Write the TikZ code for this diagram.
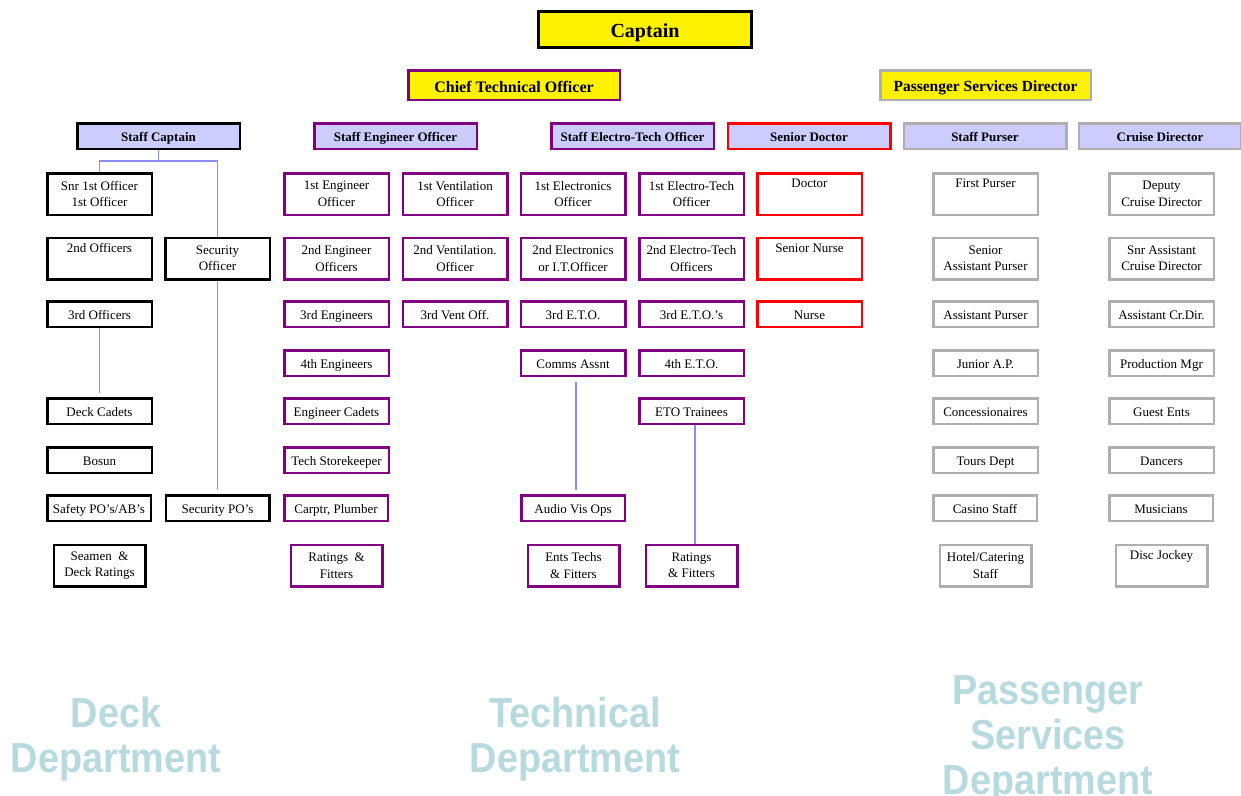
\documentclass[tikz,border=0pt]{standalone}
\usepackage{fontspec}
\usepackage{graphicx}
\setmainfont{Liberation Serif}
\newfontfamily\depfont{Liberation Sans}
\usetikzlibrary{backgrounds}
\definecolor{lav}{RGB}{204,204,255}
\definecolor{purp}{RGB}{128,0,128}
\definecolor{gry}{RGB}{175,175,175}
\definecolor{cnc}{RGB}{140,140,245}
\definecolor{dept}{RGB}{183,218,222}
\begin{document}
\begin{tikzpicture}[x=1pt,y=-1pt,
 base/.style={rectangle, inner sep=0pt, align=center, font=\fontsize{13}{16.5}\selectfont, line width=2.5pt, fill=white},
 deck/.style={base, draw=black},
 tech/.style={base, draw=purp},
 med/.style={base, draw=red},
 pass/.style={base, draw=gry},
 head/.style={fill=lav, minimum width=162.5pt, minimum height=25.5pt, font=\fontsize{13}{16}\selectfont\bfseries, text height=10.5pt, text depth=0.5pt},
 tall/.style={minimum width=104.5pt, minimum height=41.5pt},
 short/.style={minimum width=104.5pt, minimum height=25.5pt, text height=11.5pt, text depth=0.5pt},
 rowg/.style={minimum width=103.5pt, minimum height=25.5pt, text height=11.5pt, text depth=0.5pt},
 rowh/.style={minimum width=91.5pt, minimum height=41.5pt},
 top/.style={base, fill=yellow, minimum height=29.5pt},
 cn/.style={draw=cnc, line width=1.4pt},
 dep/.style={inner sep=0pt, align=center, text=dept, font=\depfont\bfseries\fontsize{42}{45}\selectfont}
]
\useasboundingbox (0,0) rectangle (1241,795);

% top
\node[top, draw=black, line width=3pt, minimum width=213pt, minimum height=36pt, font=\fontsize{20}{24}\selectfont\bfseries, text height=17pt, text depth=1.4pt] (cap) at (645,29.5) {Captain};
\node[top, draw=purp, minimum width=211.5pt, font=\fontsize{16}{19}\selectfont\bfseries, text height=14pt, text depth=0pt] (cto) at (514,85) {Chief Technical Officer};
\node[top, draw=gry, minimum width=210.5pt, font=\fontsize{15.5}{19}\selectfont\bfseries, text height=14pt, text depth=0.6pt] (psd) at (985.5,85) {Passenger Services Director};

% heads
\node[deck, head] (sc) at (158.5,136) {Staff Captain};
\node[tech, head] (seo) at (395.5,136) {Staff Engineer Officer};
\node[tech, head] (seto) at (632.5,136) {Staff Electro-Tech Officer};
\node[med, head] (sd) at (809,136) {Senior Doctor};
\node[pass, head] (sp) at (985,136) {Staff Purser};
\node[pass, head] (cd) at (1160,136) {Cruise Director};

% row A
\node[deck, tall] (snr) at (99.5,194) {Snr 1st Officer\\1st Officer};
\node[tech, tall] (e1) at (336.5,194) {1st Engineer\\Officer};
\node[tech, tall] (v1) at (455,194) {1st Ventilation\\Officer};
\node[tech, tall] (el1) at (573,194) {1st Electronics\\Officer};
\node[tech, tall] (et1) at (691.5,194) {1st Electro-Tech\\Officer};
\node[med, tall] (doc) at (809.5,194) {Doctor\\\strut};
\node[pass, tall] (fp) at (985.5,194) {First Purser\\\strut};
\node[pass, tall] (dcd) at (1161.5,194) {Deputy\\Cruise Director};

% row B
\node[deck, tall] (o2) at (99.5,258.5) {2nd Officers\\\strut};
\node[deck, tall] (seco) at (217.5,258.5) {Security\\Officer};
\node[tech, tall] (e2) at (336.5,258.5) {2nd Engineer\\Officers};
\node[tech, tall] (v2) at (455,258.5) {2nd Ventilation.\\Officer};
\node[tech, tall] (el2) at (573,258.5) {2nd Electronics\\or I.T.Officer};
\node[tech, tall] (et2) at (691.5,258.5) {2nd Electro-Tech\\Officers};
\node[med, tall] (sn) at (809.5,258.5) {Senior Nurse\\\strut};
\node[pass, tall] (sap) at (985.5,258.5) {Senior\\Assistant Purser};
\node[pass, tall] (sacd) at (1161.5,258.5) {Snr Assistant\\Cruise Director};

% row C
\node[deck, short] (o3) at (99.5,314) {3rd Officers};
\node[tech, short] (e3) at (336.5,314) {3rd Engineers};
\node[tech, short] (v3) at (455,314) {3rd Vent Off.};
\node[tech, short] (el3) at (573,314) {3rd E.T.O.};
\node[tech, short] (et3) at (691.5,314) {3rd E.T.O.'s};
\node[med, short] (nur) at (809.5,314) {Nurse};
\node[pass, short] (ap) at (985.5,314) {Assistant Purser};
\node[pass, short] (acd) at (1161.5,314) {Assistant Cr.Dir.};

% row D
\node[tech, short] (e4) at (336.5,363) {4th Engineers};
\node[tech, short] (ca) at (573,363) {Comms Assnt};
\node[tech, short] (et4) at (691.5,363) {4th E.T.O.};
\node[pass, short] (jap) at (985.5,363) {Junior A.P.};
\node[pass, short] (pm) at (1161.5,363) {Production Mgr};

% row E
\node[deck, short] (dc) at (99.5,411) {Deck Cadets};
\node[tech, short] (ec) at (336.5,411) {Engineer Cadets};
\node[tech, short] (etot) at (691.5,411) {ETO Trainees};
\node[pass, short] (con) at (985.5,411) {Concessionaires};
\node[pass, short] (ge) at (1161.5,411) {Guest Ents};

% row F
\node[deck, short] (bos) at (99.5,460) {Bosun};
\node[tech, short] (ts) at (336.5,460) {Tech Storekeeper};
\node[pass, short] (td) at (985.5,460) {Tours Dept};
\node[pass, short] (dan) at (1161.5,460) {Dancers};

% row G
\node[deck, rowg] (safe) at (99,508) {Safety PO's/AB's};
\node[deck, rowg] (spo) at (217.5,508) {Security PO's};
\node[tech, rowg] (cp) at (336,508) {Carptr, Plumber};
\node[tech, rowg] (av) at (573,508) {Audio Vis Ops};
\node[pass, rowg] (cs) at (985,508) {Casino Staff};
\node[pass, rowg] (mus) at (1161,508) {Musicians};

% row H
\node[deck, rowh] (sea) at (99.5,565.5) {Seamen~~\&\\Deck Ratings};
\node[tech, rowh] (rf) at (336.5,565.5) {Ratings~~\&\\Fitters};
\node[tech, rowh] (etf) at (573.5,565.5) {Ents Techs\\\& Fitters};
\node[tech, rowh] (rf2) at (691.5,565.5) {Ratings\\\& Fitters};
\node[pass, rowh] (hcs) at (985.5,565.5) {Hotel/Catering\\Staff};
\node[pass, rowh] (dj) at (1161.5,565.5) {Disc Jockey\\\strut};

% connectors
\begin{scope}[on background layer]
\path (sc.south) ++(0,11) coordinate (scj);
\draw[cn] (sc.south) -- (scj);
\draw[cn] (scj) -| (snr.north);
\draw[cn] (scj) -| (seco.north);
\draw[cn, shorten >=4pt] (seco.south) -- (spo.north);
\draw[cn, shorten >=4pt] (o3.south) -- (dc.north);
\draw[cn, shorten <=5pt, shorten >=4pt] ([xshift=3pt]ca.south) -- ([xshift=3pt]av.north);
\draw[cn] ([xshift=3.5pt]etot.south) -- ([xshift=3.5pt]rf2.north);
\end{scope}

% department labels
\node[dep] (dl) at (116,739) {\scalebox{0.9}[1]{Deck}\\\scalebox{0.9}[1]{Department}};
\node[dep] (tl) at (575,739) {\scalebox{0.9}[1]{Technical}\\\scalebox{0.9}[1]{Department}};
\node[dep] (pl) at (1048,739) {\scalebox{0.9}[1]{Passenger}\\\scalebox{0.9}[1]{Services}\\\scalebox{0.9}[1]{Department}};
\end{tikzpicture}
\end{document}
